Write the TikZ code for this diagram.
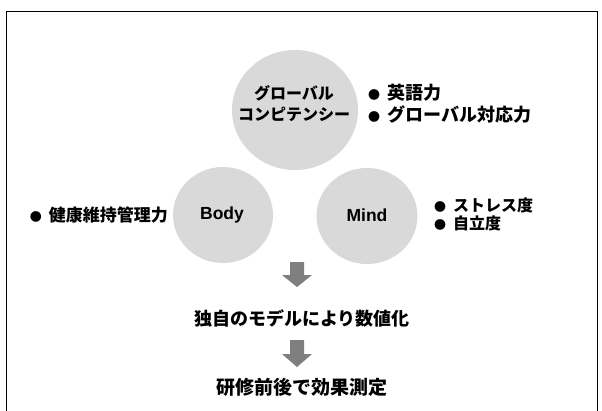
\documentclass[tikz,border=0pt]{standalone}
\usepackage{fontspec}
\setmainfont{Liberation Sans}
\newfontfamily\jp{Noto Sans CJK JP}
\usetikzlibrary{shapes.geometric}
\definecolor{circgray}{HTML}{D9D9D9}
\definecolor{arrgray}{HTML}{7F7F7F}
\newcommand{\bul}{{\fontsize{12}{12}\selectfont ●}\hspace{7pt}}
\begin{document}
\begin{tikzpicture}[x=1pt,y=-1pt,
  bubble/.style={ellipse, fill=circgray, draw=none, inner sep=0pt},
  jp/.style={font=\jp\bfseries\fontsize{#1}{#1}\selectfont, inner sep=0pt},
  lat/.style={font=\bfseries\fontsize{17.5}{17.5}\selectfont, inner sep=0pt},
  blockarrow/.style={fill=arrgray, draw=none}
]
\useasboundingbox (0,0) rectangle (602,410);
\clip (0,0) rectangle (602,410);
\fill[white] (0,0) rectangle (602,410);
\draw[line width=1pt] (6,420) -- (6,11) -- (597,11) -- (597,420);

% bubbles
\node[bubble, minimum width=126pt, minimum height=120pt] (gc) at (295,110) {};
\node[bubble, minimum width=100pt, minimum height=96pt] (body) at (223,215) {};
\node[bubble, minimum width=101pt, minimum height=96pt] (mind) at (367,216) {};

% bubble texts
\node[jp=16, align=center, font=\jp\bfseries\fontsize{16}{21}\selectfont] (gct) at (294,104) {グローバル\\コンピテンシー};
\node[lat] (bodyt) at (222,215) {Body};
\node[lat] (mindt) at (367,215) {Mind};

% bullet lists
\node[jp=18, anchor=west, align=left, font=\jp\bfseries\fontsize{18}{22}\selectfont] (gcl) at (368,104)
  {\bul 英語力\\ \bul グローバル対応力};
\node[jp=17, anchor=east, align=left] (bodyl) at (168,215)
  {\bul 健康維持管理力};
\node[jp=16, anchor=west, align=left, font=\jp\bfseries\fontsize{16}{18}\selectfont] (mindl) at (434,214)
  {\bul ストレス度\\ \bul 自立度};

% flow
\coordinate (a1) at (297,262);
\fill[blockarrow] (a1) ++(-7,0) -- ++(14,0) -- ++(0,13) -- ++(8,0) -- ++(-15,12) -- ++(-15,-12) -- ++(8,0) -- cycle;
\node[jp=18] (t1) at (302,318) {独自のモデルにより数値化};
\coordinate (a2) at (297,340);
\fill[blockarrow] (a2) ++(-7,0) -- ++(14,0) -- ++(0,14) -- ++(8,0) -- ++(-15,13) -- ++(-15,-13) -- ++(8,0) -- cycle;
\node[jp=19] (t2) at (302,387) {研修前後で効果測定};
\end{tikzpicture}
\end{document}
